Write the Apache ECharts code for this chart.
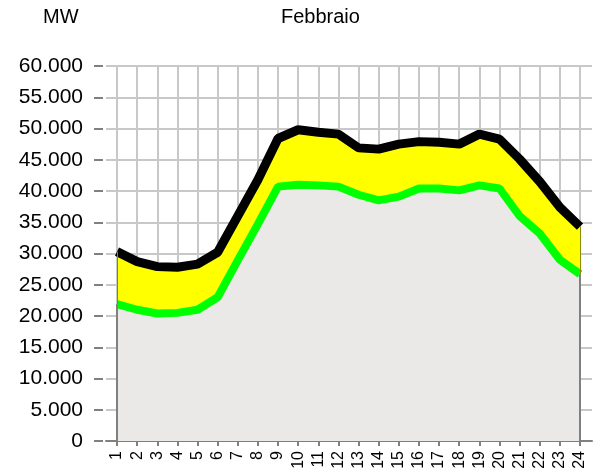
<!DOCTYPE html>
<html>
<head>
<meta charset="utf-8">
<script src="https://cdn.jsdelivr.net/npm/echarts@6/dist/echarts.min.js"></script>
<style>
  html, body { margin: 0; padding: 0; background: #fff; }
  #chart { width: 608px; height: 474px; }
</style>
</head>
<body>
<div id="chart"></div>
<script>
// ore del giorno
var ore = ['1','2','3','4','5','6','7','8','9','10','11','12','13','14','15','16','17','18','19','20','21','22','23','24'];
// linea nera (massimo)
var totale = [30300, 28700, 27900, 27800, 28300, 30200, 36000, 41800, 48400, 49800, 49400, 49100,
              46900, 46700, 47500, 47900, 47800, 47500, 49100, 48300, 45100, 41500, 37400, 34300];
// linea verde (base)
var base = [21900, 21000, 20400, 20500, 21000, 23000, 28900, 34700, 40700, 41000, 40900, 40700,
            39400, 38500, 39100, 40400, 40400, 40100, 40900, 40400, 36000, 33200, 29000, 26700];
var yMax = 60000, yStep = 5000;

var FONT = 'Liberation Sans, Arial, sans-serif';

function puntini(v) {
    return String(v).replace(/\B(?=(\d{3})+(?!\d))/g, '.');
}

var last = ore.length - 1;

// bordo verticale ai lati dell'area
function bordo(i, da, a, colore, w) {
    return [{ coord: [i, da], lineStyle: { color: colore, width: w, type: 'solid' } }, { coord: [i, a] }];
}

var option = {
    animation: false,
    backgroundColor: '#fff',
    textStyle: { fontFamily: FONT },
    title: [
        { text: 'MW', left: 43, top: 7, padding: 0,
          textStyle: { fontSize: 20, fontWeight: 'normal', color: '#000', fontFamily: FONT } },
        { text: 'Febbraio', left: 281, top: 7, padding: 0,
          textStyle: { fontSize: 20, fontWeight: 'normal', color: '#000', fontFamily: FONT } }
    ],
    grid: [
        // etichette e tacche dell'asse y
        { left: 103, right: 16, top: 66, bottom: 33 },
        // griglia orizzontale
        { left: 106, right: 16, top: 66, bottom: 33 },
        // dati
        { left: 117, right: 28, top: 66, bottom: 33 }
    ],
    xAxis: [
        { gridIndex: 0, type: 'value', show: false },
        { gridIndex: 1, type: 'value', min: 0, max: 1,
          axisLine: { show: true, lineStyle: { color: '#808080', width: 2 } },
          axisTick: { show: false }, axisLabel: { show: false }, splitLine: { show: false } },
        { gridIndex: 2, type: 'category', data: ore, boundaryGap: false,
          axisLine: { show: false },
          axisTick: { show: true, length: 5, lineStyle: { color: '#808080', width: 2 } },
          axisLabel: { rotate: 90, fontSize: 16, color: '#000', margin: 10, fontFamily: FONT, interval: 0 },
          splitLine: { show: true, lineStyle: { color: '#c8c8c8', width: 2 } } }
    ],
    yAxis: [
        { gridIndex: 0, type: 'value', min: 0, max: yMax, interval: yStep,
          axisLine: { show: false },
          axisTick: { show: true, length: 9, lineStyle: { color: '#808080', width: 2 } },
          axisLabel: { fontSize: 21, color: '#000', margin: 20, fontFamily: FONT, formatter: puntini },
          splitLine: { show: false } },
        { gridIndex: 1, type: 'value', min: 0, max: yMax, interval: yStep,
          axisLine: { show: false }, axisTick: { show: false }, axisLabel: { show: false },
          splitLine: { show: true, lineStyle: { color: '#c8c8c8', width: 2 } } },
        { gridIndex: 2, type: 'value', min: 0, max: yMax, interval: yStep, show: false }
    ],
    series: [
        {
            name: 'totale', type: 'line', xAxisIndex: 2, yAxisIndex: 2,
            data: totale, symbol: 'none',
            lineStyle: { color: '#000', width: 9 },
            areaStyle: { color: '#ffff00', opacity: 1 },
            z: 3
        },
        {
            name: 'base', type: 'line', xAxisIndex: 2, yAxisIndex: 2,
            data: base, symbol: 'none',
            lineStyle: { color: '#00ff00', width: 8 },
            areaStyle: { color: '#ebe8e8', opacity: 1 },
            z: 4,
            markLine: {
                silent: true, symbol: 'none', label: { show: false },
                lineStyle: { type: 'solid' },
                data: [
                    bordo(0, 0, base[0], '#808080', 2),
                    bordo(last, 0, base[last], '#808080', 2),
                    bordo(0, base[0], totale[0], '#8a8a00', 1),
                    bordo(last, base[last], totale[last], '#8a8a00', 1)
                ]
            }
        }
    ]
};

var myChart = echarts.init(document.getElementById('chart'));
myChart.setOption(option);
</script>
</body>
</html>
